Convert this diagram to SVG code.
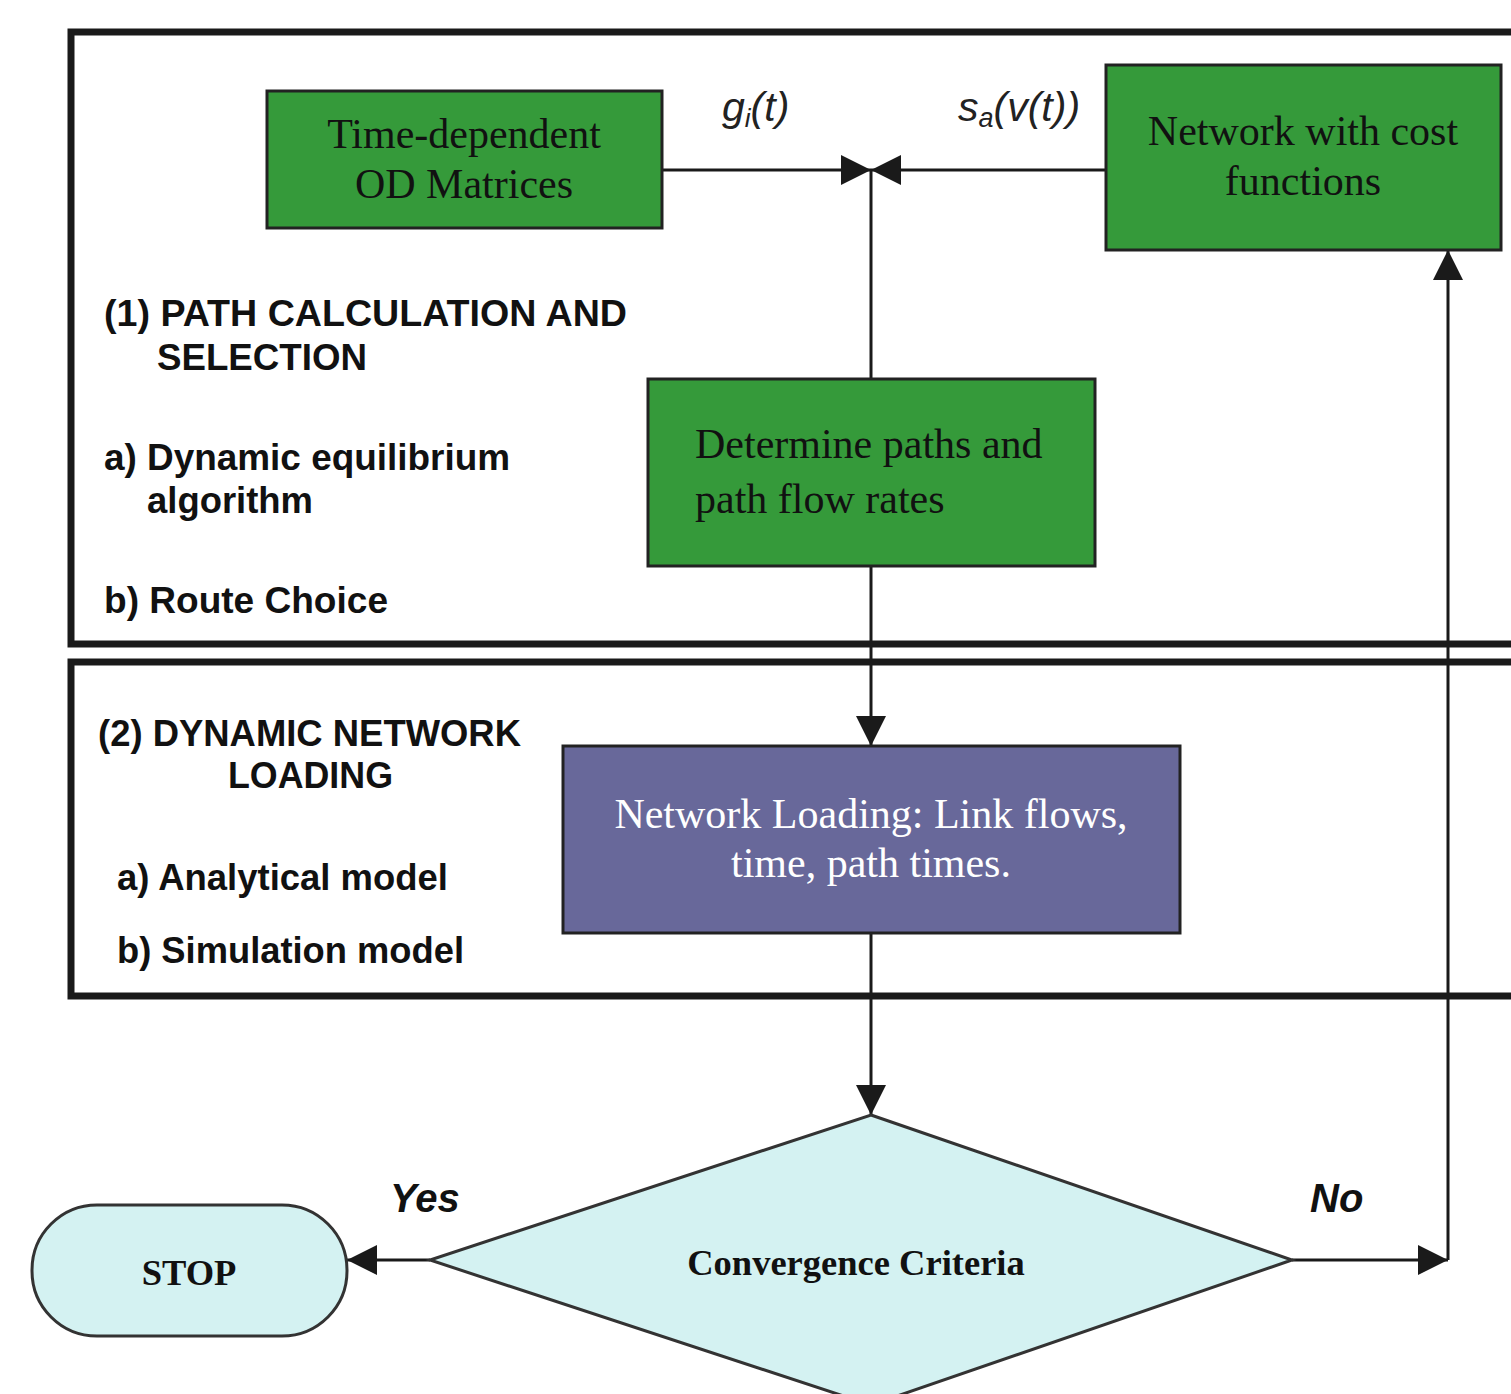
<svg xmlns="http://www.w3.org/2000/svg" width="1511" height="1394" viewBox="0 0 1511 1394">
<defs>
<style>
.frame{fill:none;stroke:#1a1a1a;stroke-width:7}
.green{fill:#359a3a;stroke:#222;stroke-width:3}
.purple{fill:#68689a;stroke:#222;stroke-width:3}
.cyan{fill:#d4f2f2;stroke:#333;stroke-width:3}
.conn{fill:none;stroke:#1a1a1a;stroke-width:3}
.ntext{font-family:"Liberation Serif",serif;font-size:42px;fill:#111}
.wtext{font-family:"Liberation Serif",serif;font-size:42px;fill:#fff}
.btext{font-family:"Liberation Serif",serif;font-size:36.5px;font-weight:bold;fill:#111}
.lbl{font-family:"Liberation Sans",sans-serif;font-size:36px;font-weight:bold;fill:#111}
.ital{font-family:"Liberation Sans",sans-serif;font-size:41px;font-style:italic;fill:#222}
.yn{font-family:"Liberation Sans",sans-serif;font-size:40px;font-style:italic;font-weight:bold;fill:#111}
</style>
<marker id="arrb" viewBox="0 0 10 10" refX="10" refY="5" markerWidth="10" markerHeight="10" orient="auto">
<path d="M0,0 L10,5 L0,10 z" fill="#1a1a1a"/>
</marker>
</defs>
<rect width="1511" height="1394" fill="#fff"/>

<g id="frame1"><rect class="frame" x="71" y="32" width="1460" height="612"/></g>
<g id="frame2"><rect class="frame" x="71" y="662" width="1460" height="334"/></g>

<g id="connectors">
<line class="conn" x1="662" y1="170" x2="871" y2="170" marker-end="url(#arrb)"/>
<line class="conn" x1="1106" y1="170" x2="871" y2="170" marker-end="url(#arrb)"/>
<line class="conn" x1="871" y1="170" x2="871" y2="379"/>
<line class="conn" x1="871" y1="566" x2="871" y2="746" marker-end="url(#arrb)"/>
<line class="conn" x1="871" y1="933" x2="871" y2="1115" marker-end="url(#arrb)"/>
<line class="conn" x1="430" y1="1260" x2="347" y2="1260" marker-end="url(#arrb)"/>
<line class="conn" x1="1292" y1="1260" x2="1448" y2="1260" marker-end="url(#arrb)"/>
<line class="conn" x1="1448" y1="1260" x2="1448" y2="250" marker-end="url(#arrb)"/>
</g>

<g id="label-g"><text class="ital" x="722" y="121">g<tspan font-size="26" dy="6">i</tspan><tspan dy="-6">(t)</tspan></text></g>
<g id="label-s"><text class="ital" x="958" y="121">s<tspan font-size="27" dy="6">a</tspan><tspan dy="-6">(v(t))</tspan></text></g>

<g id="node-od">
<rect class="green" x="267" y="91" width="395" height="137"/>
<text class="ntext" text-anchor="middle" x="464" y="148">Time-dependent</text>
<text class="ntext" text-anchor="middle" x="464" y="198">OD Matrices</text>
</g>
<g id="node-network">
<rect class="green" x="1106" y="65" width="395" height="185"/>
<text class="ntext" text-anchor="middle" x="1303" y="145">Network with cost</text>
<text class="ntext" text-anchor="middle" x="1303" y="195">functions</text>
</g>
<g id="node-determine">
<rect class="green" x="648" y="379" width="447" height="187"/>
<text class="ntext" x="695" y="458">Determine paths and</text>
<text class="ntext" x="695" y="513">path flow rates</text>
</g>
<g id="node-loading">
<rect class="purple" x="563" y="746" width="617" height="187"/>
<text class="wtext" text-anchor="middle" x="871" y="828">Network Loading: Link flows,</text>
<text class="wtext" text-anchor="middle" x="871" y="877">time, path times.</text>
</g>
<g id="node-convergence">
<polygon class="cyan" points="871,1115 1292,1260 871,1405 430,1260"/>
<text class="btext" text-anchor="middle" x="856" y="1275">Convergence Criteria</text>
</g>
<g id="node-stop">
<rect class="cyan" x="32" y="1205" width="315" height="131" rx="65" ry="65"/>
<text class="btext" text-anchor="middle" x="189" y="1285">STOP</text>
</g>

<g id="labels1">
<text class="lbl" x="104" y="326" textLength="523" lengthAdjust="spacingAndGlyphs">(1) PATH CALCULATION AND</text>
<text class="lbl" x="157" y="370" textLength="210" lengthAdjust="spacingAndGlyphs">SELECTION</text>
<text class="lbl" x="104" y="470" textLength="406" lengthAdjust="spacingAndGlyphs">a) Dynamic equilibrium</text>
<text class="lbl" x="147" y="513" textLength="166" lengthAdjust="spacingAndGlyphs">algorithm</text>
<text class="lbl" x="104" y="613" textLength="284" lengthAdjust="spacingAndGlyphs">b) Route Choice</text>
</g>
<g id="labels2">
<text class="lbl" x="98" y="746" textLength="423" lengthAdjust="spacingAndGlyphs">(2) DYNAMIC NETWORK</text>
<text class="lbl" x="228" y="788" textLength="165" lengthAdjust="spacingAndGlyphs">LOADING</text>
<text class="lbl" x="117" y="890" textLength="331" lengthAdjust="spacingAndGlyphs">a) Analytical model</text>
<text class="lbl" x="117" y="963" textLength="347" lengthAdjust="spacingAndGlyphs">b) Simulation model</text>
</g>
<g id="label-yes"><text class="yn" x="390" y="1212">Yes</text></g>
<g id="label-no"><text class="yn" x="1310" y="1212">No</text></g>
</svg>
